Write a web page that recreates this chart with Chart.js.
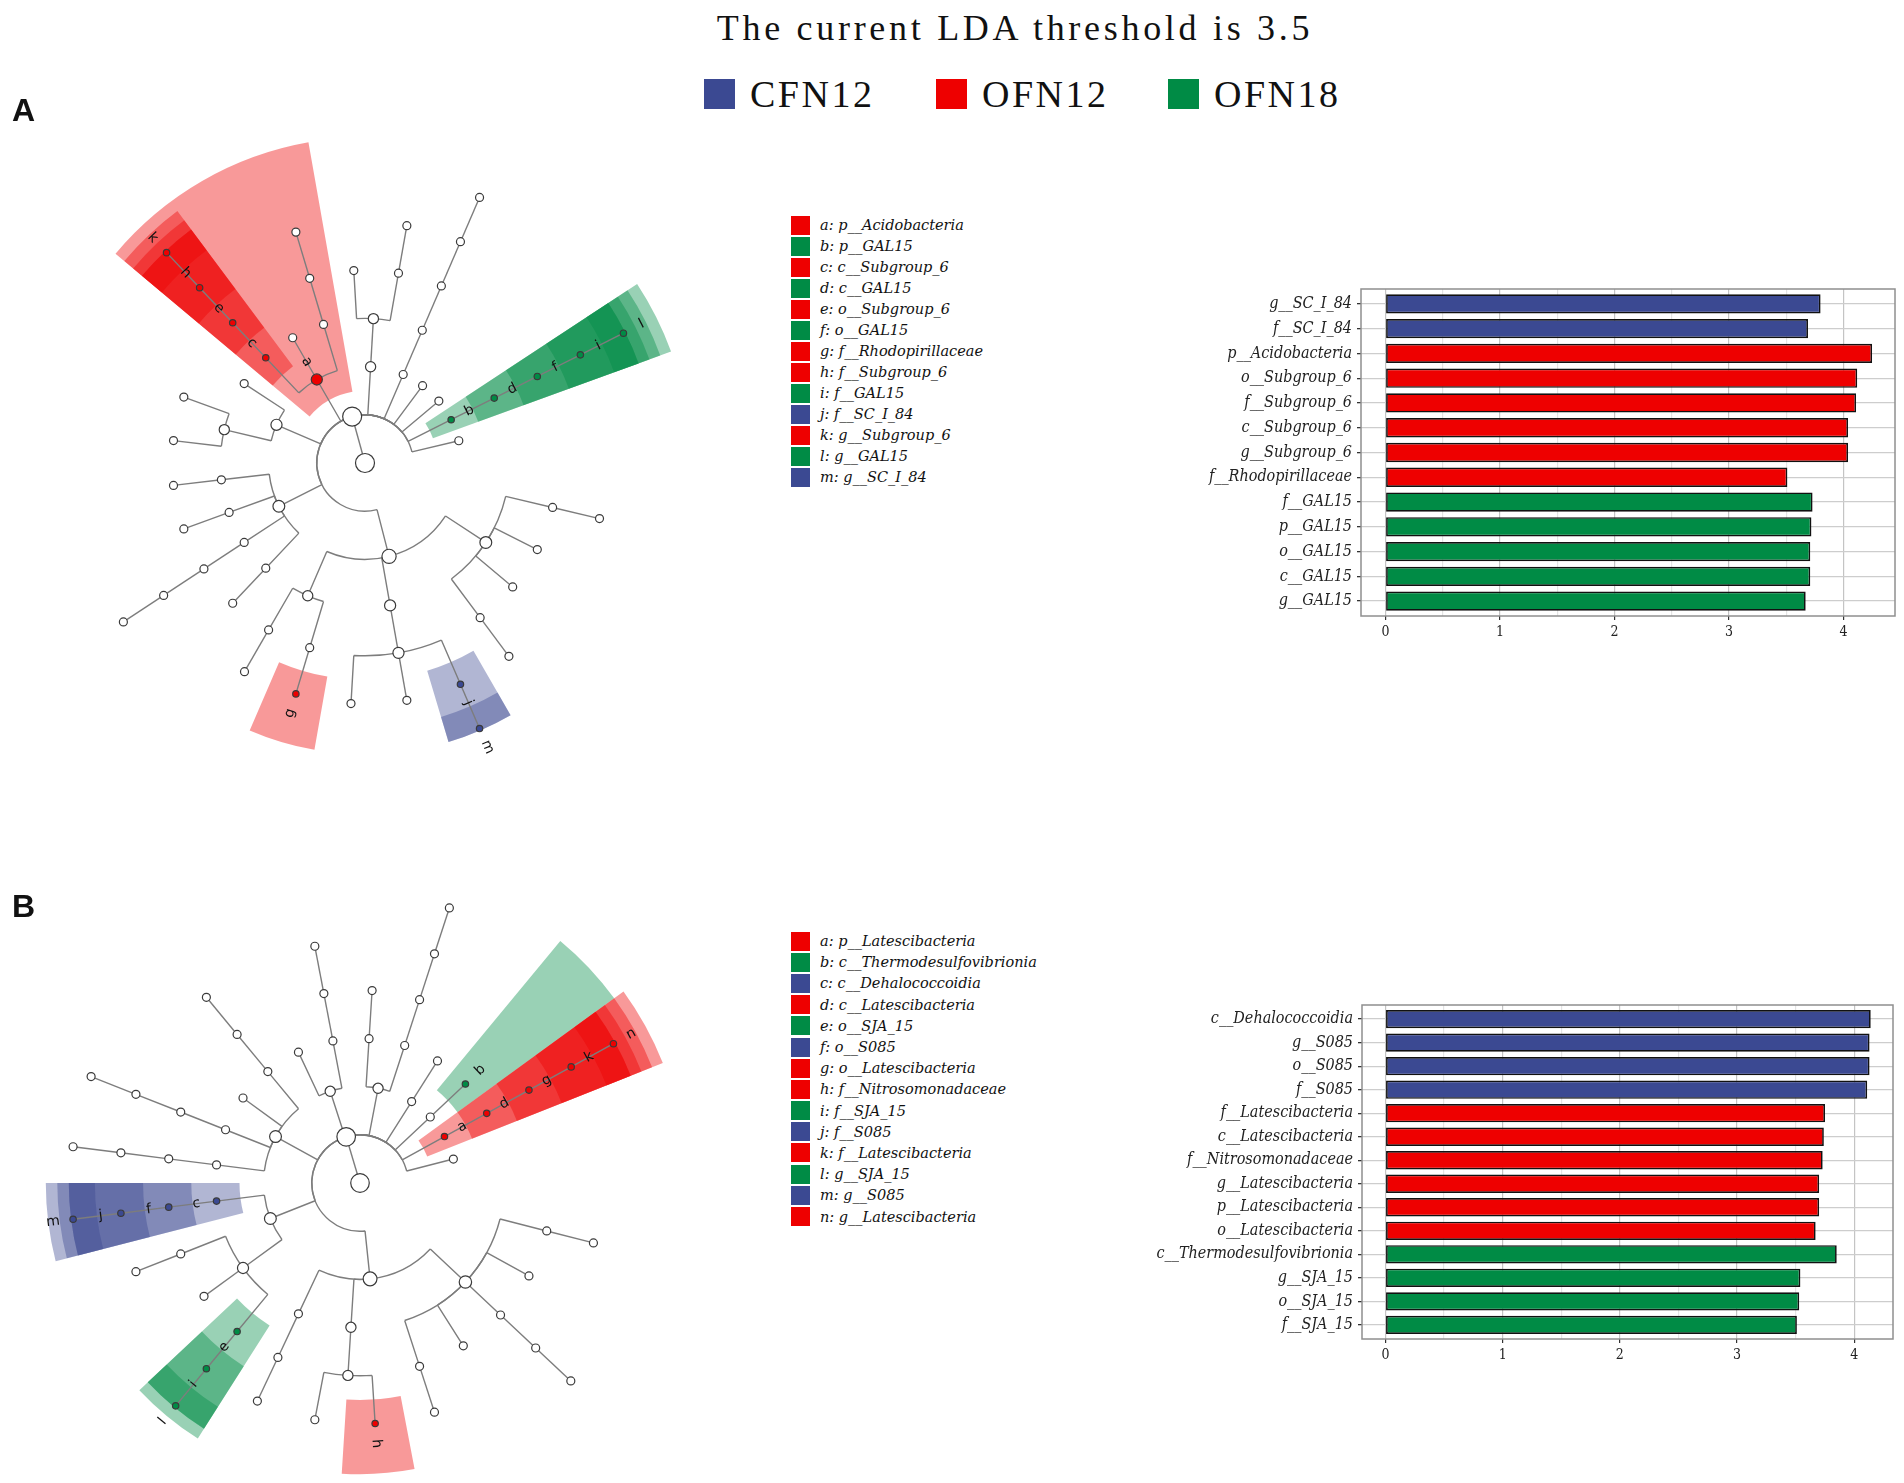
<!DOCTYPE html>
<html lang="en">
<head>
<meta charset="utf-8">
<title>LDA threshold 3.5</title>
<script src="https://cdn.jsdelivr.net/npm/chart.js"></script>
<style>
  html, body { margin: 0; padding: 0; background: #fff; width: 1904px; height: 1483px; overflow: hidden; }
  .abs { position: absolute; }
  #title { left: 415px; width: 1200px; top: 10px; text-align: center; font-family: "Liberation Serif", serif;
           font-size: 36px; line-height: 36px; letter-spacing: 3.7px; color: #111; }
  .gkey { top: 79px; width: 31px; height: 30px; }
  .glabel { top: 75px; font-family: "Liberation Serif", serif; font-size: 38px; line-height: 38px; letter-spacing: 2.5px; color: #111; }
  .panel { left: 12px; font-family: "Liberation Sans", Arial, sans-serif; font-weight: bold; font-size: 32px; line-height: 32px; color: #111; }
  .keys { left: 791px; }
  .keyrow { display: flex; align-items: center; }
  .keyrow .sw { width: 19px; height: 19px; margin-right: 10px; }
  .keyrow .tx { font-family: "DejaVu Serif", serif; font-style: italic; font-size: 14.5px; color: #111; white-space: nowrap; }
</style>
</head>
<body>
<canvas id="cladeA" class="abs" width="680" height="680" style="left:25px;top:123px"></canvas>
<canvas id="cladeB" class="abs" width="680" height="680" style="left:20px;top:843px"></canvas>
<canvas id="barsA" class="abs" width="754" height="380" style="left:1150px;top:270px"></canvas>
<canvas id="barsB" class="abs" width="754" height="390" style="left:1150px;top:985px"></canvas>
<div id="title" class="abs">The current LDA threshold is 3.5</div>
<div id="groupKey"></div>
<div class="abs panel" style="top:94px">A</div>
<div class="abs panel" style="top:890px">B</div>
<div id="keysA" class="abs keys" style="top:214.5px"></div>
<div id="keysB" class="abs keys" style="top:930.5px"></div>
<script>
const groupNames = ["CFN12", "OFN12", "OFN18"];
const groupColors = { CFN12: "#3B4992", OFN12: "#EE0000", OFN18: "#008B45" };

// cladogram A: one lineage per leaf, clockwise starting from the right
const lineagesA = [
  "p1/c1/o1/f1",
  "p1/c1/o2",
  "p1/c1/o3",
  "p1/c1/o4/f1",
  "p1/c2/o1/f__SC_I_84/g__SC_I_84",
  "p1/c2/o1/f2",
  "p1/c2/o1/f3",
  "p1/c3/o1/f__Rhodopirillaceae",
  "p1/c3/o2/f1",
  "p2/c1/o1",
  "p2/c2/o1/f1/g1",
  "p2/c3/o1",
  "p2/c4/o1",
  "p3/c1/o1",
  "p3/c1/o2",
  "p3/c2",
  "p__Acidobacteria/c__Subgroup_6/o__Subgroup_6/f__Subgroup_6/g__Subgroup_6",
  "p__Acidobacteria/c2",
  "p__Acidobacteria/c3/o1/f1",
  "p5/c1/o1",
  "p5/c1/o2/f1",
  "p6/c1/o1/f1/g1",
  "p7",
  "p8",
  "p__GAL15/c__GAL15/o__GAL15/f__GAL15/g__GAL15",
  "p10"
];
const lettersA = ["a", "b", "c", "d", "e", "f", "g", "h", "i", "j", "k", "l", "m"];
const taxaA = ["p__Acidobacteria", "p__GAL15", "c__Subgroup_6", "c__GAL15", "o__Subgroup_6", "o__GAL15",
  "f__Rhodopirillaceae", "f__Subgroup_6", "f__GAL15", "f__SC_I_84", "g__Subgroup_6", "g__GAL15", "g__SC_I_84"];
const taxaGroupA = ["OFN12", "OFN18", "OFN12", "OFN18", "OFN12", "OFN18",
  "OFN12", "OFN12", "OFN18", "CFN12", "OFN12", "OFN18", "CFN12"];

// cladogram B
const lineagesB = [
  "p1/c1/o1/f1",
  "p1/c1/o2",
  "p1/c1/o3/f1/g1",
  "p1/c1/o4",
  "p1/c1/o5/f1",
  "p1/c2/o1/f__Nitrosomonadaceae",
  "p1/c2/o1/f2",
  "p1/c3/o1/f1",
  "p2/c1/o__SJA_15/f__SJA_15/g__SJA_15",
  "p2/c1/o2",
  "p2/c1/o3/f1",
  "p2/c__Dehalococcoidia/o__S085/f__S085/g__S085",
  "p3/c1/o1/f1/g1",
  "p3/c2/o1/f1/g1",
  "p3/c3",
  "p3/c4/o1/f1",
  "p4/c1",
  "p4/c2/o1/f1",
  "p5/c1/o1",
  "p5/c2/o1/f1/g1",
  "p6/c1",
  "p7/c__Thermodesulfovibrionia",
  "p__Latescibacteria/c__Latescibacteria/o__Latescibacteria/f__Latescibacteria/g__Latescibacteria",
  "p9"
];
const lettersB = ["a", "b", "c", "d", "e", "f", "g", "h", "i", "j", "k", "l", "m", "n"];
const taxaB = ["p__Latescibacteria", "c__Thermodesulfovibrionia", "c__Dehalococcoidia", "c__Latescibacteria",
  "o__SJA_15", "o__S085", "o__Latescibacteria", "f__Nitrosomonadaceae", "f__SJA_15", "f__S085",
  "f__Latescibacteria", "g__SJA_15", "g__S085", "g__Latescibacteria"];
const taxaGroupB = ["OFN12", "OFN18", "CFN12", "OFN12", "OFN18", "CFN12", "OFN12",
  "OFN12", "OFN18", "CFN12", "OFN12", "OFN18", "CFN12", "OFN12"];

// LDA bars
const barTaxaA = ["g__SC_I_84", "f__SC_I_84", "p__Acidobacteria", "o__Subgroup_6", "f__Subgroup_6", "c__Subgroup_6",
  "g__Subgroup_6", "f__Rhodopirillaceae", "f__GAL15", "p__GAL15", "o__GAL15", "c__GAL15", "g__GAL15"];
const barLdaA = [3.80, 3.69, 4.25, 4.12, 4.11, 4.04, 4.04, 3.51, 3.73, 3.72, 3.71, 3.71, 3.67];
const barGroupA = ["CFN12", "CFN12", "OFN12", "OFN12", "OFN12", "OFN12", "OFN12", "OFN12",
  "OFN18", "OFN18", "OFN18", "OFN18", "OFN18"];

const barTaxaB = ["c__Dehalococcoidia", "g__S085", "o__S085", "f__S085", "f__Latescibacteria", "c__Latescibacteria",
  "f__Nitrosomonadaceae", "g__Latescibacteria", "p__Latescibacteria", "o__Latescibacteria",
  "c__Thermodesulfovibrionia", "g__SJA_15", "o__SJA_15", "f__SJA_15"];
const barLdaB = [4.14, 4.13, 4.13, 4.11, 3.75, 3.74, 3.73, 3.70, 3.70, 3.67, 3.85, 3.54, 3.53, 3.51];
const barGroupB = ["CFN12", "CFN12", "CFN12", "CFN12", "OFN12", "OFN12", "OFN12", "OFN12", "OFN12", "OFN12",
  "OFN18", "OFN18", "OFN18", "OFN18"];

const ldaTicks = [0, 1, 2, 3, 4];

const rad = (d) => d * Math.PI / 180;

function rgba(hex, a) {
  const v = parseInt(hex.slice(1), 16);
  return `rgba(${(v >> 16) & 255},${(v >> 8) & 255},${v & 255},${a})`;
}

// build the taxonomy tree and lay it out radially
function buildTree(lineages) {
  const root = { name: "root", level: 0, children: [], parent: null };
  const kingdom = { name: "k__Bacteria", level: 1, children: [], parent: root };
  root.children.push(kingdom);
  const byKey = {};
  lineages.forEach((line) => {
    let node = kingdom;
    let key = "";
    line.split("/").forEach((name) => {
      key += "/" + name;
      if (!byKey[key]) {
        byKey[key] = { name: name, level: node.level + 1, children: [], parent: node };
        node.children.push(byKey[key]);
      }
      node = byKey[key];
    });
  });

  const nodes = [];
  const leaves = [];
  (function walk(n) {
    nodes.push(n);
    if (!n.children.length) leaves.push(n);
    n.children.forEach(walk);
  })(root);

  // leaves evenly spaced, one slot left empty
  const slot = 360 / (leaves.length + 1);
  leaves.forEach((n, i) => {
    n.angle = (i + 1) * slot;
    n.lo = n.hi = n.angle;
    n.leaves = 1;
  });
  nodes.slice().reverse().forEach((n) => {
    if (!n.children.length) return;
    n.angle = n.children.reduce((s, c) => s + c.angle, 0) / n.children.length;
    n.lo = Math.min(...n.children.map((c) => c.lo));
    n.hi = Math.max(...n.children.map((c) => c.hi));
    n.leaves = n.children.reduce((s, c) => s + c.leaves, 0);
  });
  const maxLevel = Math.max(...nodes.map((n) => n.level));
  return { nodes, slot, maxLevel };
}

function drawCladogram(canvasId, lineages, letters, taxa, taxaGroups) {
  const { nodes, slot, maxLevel } = buildTree(lineages);
  const marks = {};
  taxa.forEach((t, i) => { marks[t] = { letter: letters[i], color: groupColors[taxaGroups[i]] }; });
  nodes.forEach((n) => { n.mark = marks[n.name]; });
  const marked = nodes.filter((n) => n.mark);
  const R = 340 / 48.2;

  const cladePlugin = {
    id: "clade",
    beforeDatasetsDraw(chart) {
      const ctx = chart.ctx;
      const cx = chart.scales.x.getPixelForValue(0);
      const cy = chart.scales.y.getPixelForValue(0);
      const unit = chart.scales.x.getPixelForValue(1) - cx;
      ctx.save();
      // shaded sectors behind the marked clades
      marked.forEach((n) => {
        const r0 = (n.level - 0.5) * unit;
        const r1 = maxLevel * unit + 2 + Math.max(0, 5 - n.level) * 11.5;
        const a0 = rad(n.lo - slot / 2);
        const a1 = rad(n.hi + slot / 2);
        ctx.beginPath();
        ctx.arc(cx, cy, r1, a0, a1);
        ctx.arc(cx, cy, r0, a1, a0, true);
        ctx.closePath();
        ctx.fillStyle = rgba(n.mark.color, 0.4);
        ctx.fill();
      });
      // branches: arc at the parent's radius, then a radial segment
      ctx.strokeStyle = "#7d7d7d";
      ctx.lineWidth = 1.4;
      nodes.forEach((n) => {
        const p = n.parent;
        if (!p) return;
        const a = rad(n.angle);
        const pa = rad(p.angle);
        const rp = p.level * unit;
        const rn = n.level * unit;
        ctx.beginPath();
        if (p.level > 0) ctx.arc(cx, cy, rp, Math.min(a, pa), Math.max(a, pa));
        ctx.moveTo(cx + rp * Math.cos(a), cy + rp * Math.sin(a));
        ctx.lineTo(cx + rn * Math.cos(a), cy + rn * Math.sin(a));
        ctx.stroke();
      });
      ctx.restore();
    },
    afterDatasetsDraw(chart) {
      const ctx = chart.ctx;
      const cx = chart.scales.x.getPixelForValue(0);
      const cy = chart.scales.y.getPixelForValue(0);
      const unit = chart.scales.x.getPixelForValue(1) - cx;
      ctx.save();
      ctx.font = "14px 'DejaVu Sans'";
      ctx.fillStyle = "#111";
      ctx.textAlign = "center";
      ctx.textBaseline = "middle";
      marked.forEach((n) => {
        const a = rad(n.angle);
        const r = (n.level + 0.42) * unit;
        let rot = n.angle % 360;
        if (rot > 90 && rot <= 270) rot -= 180;
        else if (rot > 270) rot -= 360;
        ctx.save();
        ctx.translate(cx + r * Math.cos(a), cy + r * Math.sin(a));
        ctx.rotate(rad(rot));
        ctx.fillText(n.mark.letter, 0, 0);
        ctx.restore();
      });
      ctx.restore();
    }
  };

  new Chart(document.getElementById(canvasId), {
    type: "scatter",
    data: {
      datasets: [{
        data: nodes.map((n) => ({
          x: n.level * Math.cos(rad(n.angle)),
          y: -n.level * Math.sin(rad(n.angle))
        })),
        pointRadius: nodes.map((n) => (n.mark && n.leaves === 1 ? 3.2 : 4 + 1.1 * Math.sqrt(n.leaves - 1))),
        pointBackgroundColor: nodes.map((n) => (n.mark ? n.mark.color : "#fff")),
        pointBorderColor: "#3a3a3a",
        pointBorderWidth: 1.2
      }]
    },
    options: {
      responsive: false,
      animation: false,
      events: [],
      layout: { padding: 0, autoPadding: false },
      plugins: { legend: { display: false }, tooltip: { enabled: false } },
      scales: {
        x: { type: "linear", min: -R, max: R, display: false },
        y: { type: "linear", min: -R, max: R, display: false }
      }
    },
    plugins: [cladePlugin]
  });
}

const panelBorder = {
  id: "panelBorder",
  afterDatasetsDraw(chart) {
    const { ctx, chartArea: a } = chart;
    ctx.save();
    ctx.strokeStyle = "#8f8f8f";
    ctx.lineWidth = 1.5;
    ctx.strokeRect(a.left, a.top, a.right - a.left, a.bottom - a.top);
    ctx.restore();
  }
};

function drawBars(canvasId, taxa, lda, groups, xMin, xMax, padTop, padRight, yWidth, xHeight) {
  const serif = "'DejaVu Serif Condensed', 'DejaVu Serif', serif";
  const gridValues = ldaTicks.flatMap((v) => [v, v + 0.5]).filter((v) => v <= xMax);
  const isMajor = (c) => c.tick && Number.isInteger(c.tick.value);
  new Chart(document.getElementById(canvasId), {
    type: "bar",
    data: {
      datasets: [{
        data: lda.map((v, i) => ({ x: v, y: i })),
        backgroundColor: groups.map((g) => groupColors[g]),
        borderColor: "#111",
        borderWidth: 1.7,
        borderSkipped: false,
        barPercentage: 0.78,
        categoryPercentage: 1
      }]
    },
    options: {
      indexAxis: "y",
      responsive: false,
      animation: false,
      events: [],
      layout: { padding: { top: padTop, right: padRight, left: 0, bottom: 0 } },
      plugins: { legend: { display: false }, tooltip: { enabled: false } },
      scales: {
        x: {
          type: "linear",
          min: xMin,
          max: xMax,
          afterBuildTicks: (s) => { s.ticks = gridValues.map((v) => ({ value: v })); },
          afterFit: (s) => { s.height = xHeight; },
          border: { display: false },
          grid: {
            color: (c) => (isMajor(c) ? "#c4c4c4" : "#e4e4e4"),
            lineWidth: 1.2,
            tickColor: (c) => (isMajor(c) ? "#333" : "rgba(0,0,0,0)"),
            tickLength: 4
          },
          ticks: {
            autoSkip: false,
            maxRotation: 0,
            padding: 4,
            color: "#222",
            font: { family: serif, size: 14 },
            callback: (v) => (Number.isInteger(v) ? String(v) : "")
          }
        },
        y: {
          type: "linear",
          reverse: true,
          offset: false,
          min: -0.6,
          max: taxa.length - 0.4,
          afterBuildTicks: (s) => { s.ticks = taxa.map((t, i) => ({ value: i })); },
          afterFit: (s) => { s.width = yWidth; },
          border: { display: false },
          grid: { offset: false, color: "#cdcdcd", lineWidth: 1.3, tickColor: "#333", tickLength: 4 },
          ticks: {
            autoSkip: false,
            padding: 5,
            color: "#222",
            font: { family: serif, size: 16, style: "italic" },
            callback: (v) => taxa[v]
          }
        }
      }
    },
    plugins: [panelBorder]
  });
}

function fillKeys(boxId, letters, taxa, taxaGroups, rowHeight) {
  const box = document.getElementById(boxId);
  letters.forEach((l, i) => {
    const row = document.createElement("div");
    row.className = "keyrow";
    row.style.height = rowHeight + "px";
    row.innerHTML = `<span class="sw" style="background:${groupColors[taxaGroups[i]]}"></span>` +
      `<span class="tx">${l}: ${taxa[i]}</span>`;
    box.appendChild(row);
  });
}

document.addEventListener("DOMContentLoaded", () => {
  // group legend along the top
  const keyLeft = [704, 936, 1168];
  const gk = document.getElementById("groupKey");
  groupNames.forEach((g, i) => {
    gk.insertAdjacentHTML("beforeend",
      `<div class="abs gkey" style="left:${keyLeft[i]}px;background:${groupColors[g]}"></div>` +
      `<div class="abs glabel" style="left:${keyLeft[i] + 46}px">${g}</div>`);
  });

  fillKeys("keysA", lettersA, taxaA, taxaGroupA, 21);
  fillKeys("keysB", lettersB, taxaB, taxaGroupB, 21.2);

  drawCladogram("cladeA", lineagesA, lettersA, taxaA, taxaGroupA);
  drawCladogram("cladeB", lineagesB, lettersB, taxaB, taxaGroupB);

  drawBars("barsA", barTaxaA, barLdaA, barGroupA, -0.214, 4.45, 19, 9, 211, 34);
  drawBars("barsB", barTaxaB, barLdaB, barGroupB, -0.2, 4.33, 20, 11, 212, 36);
});
</script>
</body>
</html>
